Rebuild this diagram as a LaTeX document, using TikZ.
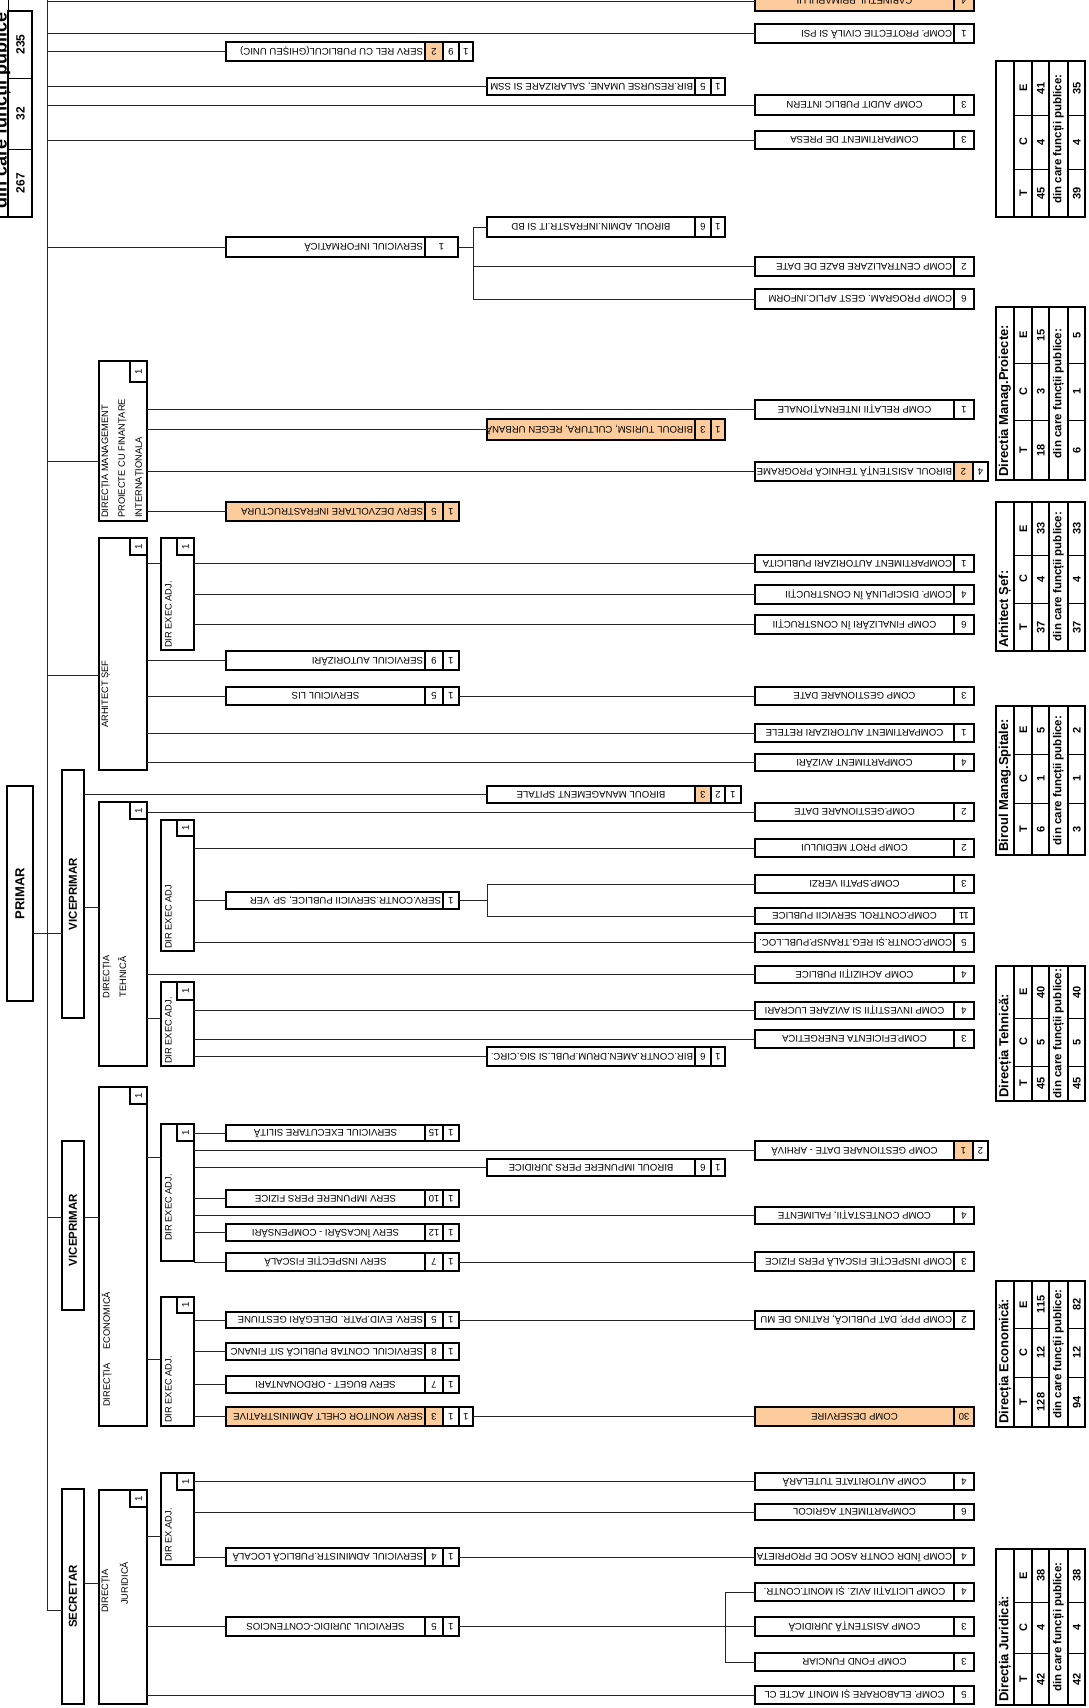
\documentclass[tikz,border=0pt]{standalone}
\usepackage{fontspec}
\setmainfont{Liberation Sans}
\definecolor{orx}{RGB}{252,204,156}
\newcount\nodecnt
\tikzset{
 obx/.style={draw, line width=1.6pt, rectangle, inner sep=0pt, outer sep=0pt, anchor=north west},
 ocl/.style={draw, line width=1.5pt},
 boxtxt/.style={rotate=180, inner sep=0pt, font=\fontsize{9.6}{10}\selectfont, text height=6.9pt, text depth=0pt},
 hbx/.style={draw, line width=2.5pt, rectangle, inner sep=0pt, outer sep=0pt, anchor=north west, fill=white},
 hcl/.style={draw, line width=2.2pt},
 hnum/.style={rotate=90, inner sep=0pt, font=\fontsize{9.6}{10}\selectfont, text height=6.9pt, text depth=0pt},
 htxt/.style={rotate=90, inner sep=0pt, font=\fontsize{9.3}{16.8}\selectfont, anchor=north west, align=left},
 bigt/.style={rotate=90, inner sep=0pt, font=\fontsize{11.5}{12}\selectfont\bfseries},
 conn/.style={line width=0.8pt, draw=black!85},
 tabst/.style={draw, line width=1.8pt, rectangle, inner sep=0pt, outer sep=0pt, anchor=north west},
 tabin/.style={line width=1.4pt},
 tabrow/.style={line width=1pt},
 ttl/.style={rotate=90, inner sep=0pt, font=\fontsize{13}{14}\selectfont\bfseries},
 tval/.style={rotate=90, inner sep=0pt, font=\fontsize{11}{12}\selectfont\bfseries, text height=8pt, text depth=0pt},
 dintxt/.style={rotate=90, inner sep=0pt, font=\fontsize{11.5}{12}\selectfont\bfseries},
}
% box: name, x1, y1, x2, y2, text-right, text, align (c/r), fill
\newcommand{\obox}[9]{%
  \gdef\curya{#3}\gdef\curyb{#5}%
  \node[obx, fill=#9, minimum width={(#4)-(#2)}, minimum height={(#5)-(#3)}] (#1) at (#2,#3) {};
  \if#8c
    \node[boxtxt] (#1t) at ({((#2)+(#6))/2},{((#3)+(#5))/2}) {#7};
  \else
    \node[boxtxt, anchor=west] (#1t) at ({(#6)-1.8},{((#3)+(#5))/2}) {#7};
  \fi
}
\newcommand{\ocell}[4]{%
  \draw[ocl, fill=#4] (#1,\curya) rectangle (#2,\curyb);
  \global\advance\nodecnt by 1
  \node[boxtxt, name=c\the\nodecnt] at ({((#1)+(#2))/2},{(\curya+\curyb)/2}) {#3};
}
\newcommand{\headbox}[5]{%
  \node[hbx, minimum width={(#4)-(#2)}, minimum height={(#5)-(#3)}] (#1) at (#2,#3) {};
}
\newcommand{\onecell}[4]{%
  \draw[hcl, fill=white] (#1,#2) rectangle (#3,#4);
  \global\advance\nodecnt by 1
  \node[hnum, name=h\the\nodecnt] at ({((#1)+(#3))/2},{((#2)+(#4))/2}) {1};
}
% table: name, y1, r1, r2, y2, title
\newcommand{\stattab}[6]{%
  \node[tabst, minimum width=89, minimum height={(#5)-(#2)}] (#1) at (996,#2) {};
  \draw[tabin] (1014,#2) -- (1014,#5) (1032,#2) -- (1032,#5) (1049,#2) -- (1049,#5) (1068,#2) -- (1068,#5);
  \draw[tabrow] (1014,#3) -- (1049,#3) (1014,#4) -- (1049,#4) (1068,#3) -- (1085,#3) (1068,#4) -- (1085,#4);
  \node[ttl, anchor=north west] (#1ttl) at (998.5,{(#5)-3}) {#6};
  \node[dintxt] (#1din) at (1058.5,{((#2)+(#5))/2}) {din care funcții publice:};
  \node[tval] (#1T) at (1023,{((#4)+(#5))/2}) {T};
  \node[tval] (#1C) at (1023,{((#3)+(#4))/2}) {C};
  \node[tval] (#1E) at (1023,{((#2)+(#3))/2}) {E};
  \gdef\tya{#2}\gdef\tra{#3}\gdef\trb{#4}\gdef\tyb{#5}%
}
\newcommand{\statvals}[7]{%
  \node[tval] (#1vt) at (1040.5,{(\trb+\tyb)/2}) {#2};
  \node[tval] (#1vc) at (1040.5,{(\tra+\trb)/2}) {#3};
  \node[tval] (#1ve) at (1040.5,{(\tya+\tra)/2}) {#4};
  \node[tval] (#1dt) at (1076.5,{(\trb+\tyb)/2}) {#5};
  \node[tval] (#1dc) at (1076.5,{(\tra+\trb)/2}) {#6};
  \node[tval] (#1de) at (1076.5,{(\tya+\tra)/2}) {#7};
}
\begin{document}
\begin{tikzpicture}[x=1pt,y=-1pt]
\useasboundingbox (0,0) rectangle (1089,1708);
\clip (0,0) rectangle (1089,1708);
\fill[white] (0,0) rectangle (1089,1708);

% ---------- top-left summary table (cropped) ----------
\node[tabst, minimum width=24, minimum height=206] (t0) at (8,11) {};
\draw[tabrow] (t0.north west) -- (8,0);
\draw[tabin] (t0.south west) -- (0,217);
\draw[tabrow] (8,78) -- (32,78) (8,149) -- (32,149);
\node[tval, font=\fontsize{12}{13}\selectfont\bfseries] (t0a) at (20.5,44.5) {235};
\node[tval, font=\fontsize{12}{13}\selectfont\bfseries] (t0b) at (20.5,113.5) {32};
\node[tval, font=\fontsize{12}{13}\selectfont\bfseries] (t0c) at (20.5,183) {267};
\node[rotate=90, inner sep=0pt, anchor=base west, font=\fontsize{18}{19}\selectfont\bfseries] (t0din) at (6.5,209) {din care funcții publice};

% ---------- header boxes ----------
\headbox{primar}{7}{786}{33}{1001}
\headbox{vp1}{62}{770}{84}{1018}
\headbox{vp2}{62}{1141}{84}{1310}
\headbox{secr}{62}{1489}{84}{1704}
\node[bigt, font=\fontsize{13}{14}\selectfont\bfseries] (primart) at (primar.center) {PRIMAR};
\node[bigt] (vp1t) at (vp1.center) {VICEPRIMAR};
\node[bigt] (vp2t) at (73,1230) {VICEPRIMAR};
\node[bigt] (secrt) at (secr.center) {SECRETAR};

\headbox{dmp}{99}{361}{147}{521}\onecell{130}{361}{147}{382}
\node[htxt] (dmpt) at (101.5,518) {DIRECȚIA MANAGEMENT\\PROIECTE CU FINANȚARE\\INTERNAȚIONALA};
\headbox{arhs}{99}{538}{147}{770}\onecell{130}{538}{147}{555}
\node[htxt] (arhst) at (101.5,728) {ARHITECT ȘEF};
\headbox{dea}{161}{538}{194}{650}\onecell{177}{538}{194}{555}
\node[htxt] (deat) at (165,648) {DIR EXEC ADJ.};
\headbox{dth}{99}{802}{147}{1066}\onecell{130}{802}{147}{819}
\node[htxt, align=center, anchor=center] (dtht) at (114.5,977) {DIRECȚIA\\TEHNICĂ};
\headbox{det1}{161}{820}{194}{951}\onecell{177}{820}{194}{836}
\node[htxt] (det1t) at (165,949) {DIR EXEC ADJ};
\headbox{det2}{161}{982}{194}{1066}\onecell{177}{982}{194}{1000}
\node[htxt] (det2t) at (165,1064) {DIR EXEC ADJ.};
\headbox{dec}{99}{1087}{147}{1426}\onecell{130}{1087}{147}{1104}
\node[htxt] (dect) at (101.5,1407) {DIRECȚIA\hspace{14pt}ECONOMICĂ};
\headbox{dee1}{161}{1124}{194}{1261}\onecell{177}{1124}{194}{1141}
\node[htxt] (dee1t) at (165,1241) {DIR EXEC ADJ.};
\headbox{dee2}{161}{1297}{194}{1426}\onecell{177}{1297}{194}{1313}
\node[htxt] (dee2t) at (165,1423) {DIR EXEC ADJ.};
\headbox{djr}{99}{1490}{147}{1704}\onecell{130}{1490}{147}{1507}
\node[htxt] (djrt1) at (101.5,1613) {DIRECȚIA};
\node[htxt] (djrt2) at (119.5,1605) {JURIDICĂ};
\headbox{dej}{161}{1473}{194}{1565}\onecell{177}{1473}{194}{1490}
\node[htxt] (dejt) at (165,1562) {DIR EX.ADJ.};

% ---------- right column ----------
\obox{cab}{755}{-9}{974}{11}{954}{CABINETUL PRIMARULUI}{c}{orx}\ocell{954}{974}{4}{orx}
\obox{pci}{755}{24}{974}{43}{954}{COMP. PROTECTIE CIVILĂ SI PSI}{r}{white}\ocell{954}{974}{1}{white}
\obox{aud}{755}{95}{974}{115}{954}{COMP AUDIT PUBLIC INTERN}{c}{white}\ocell{954}{974}{3}{white}
\obox{pre}{755}{131}{974}{149}{954}{COMPARTIMENT DE PRESA}{c}{white}\ocell{954}{974}{3}{white}
\obox{cbd}{755}{257}{974}{276}{954}{COMP CENTRALIZARE BAZE DE DATE}{r}{white}\ocell{954}{974}{2}{white}
\obox{cpg}{755}{289}{974}{309}{954}{COMP PROGRAM. GEST APLIC.INFORM}{r}{white}\ocell{954}{974}{6}{white}
\obox{rel}{755}{400}{974}{419}{954}{COMP RELAȚII INTERNAȚIONALE}{c}{white}\ocell{954}{974}{1}{white}
\obox{atp}{755}{462}{988}{481}{954}{BIROUL ASISTENȚĂ TEHNICĂ PROGRAME}{r}{white}\ocell{954}{973}{2}{orx}\ocell{973}{988}{4}{white}
\obox{apu}{755}{555}{974}{572}{954}{COMPARTIMENT AUTORIZARI PUBLICITA}{r}{white}\ocell{954}{974}{1}{white}
\obox{dis}{755}{585}{974}{604}{954}{COMP. DISCIPLINĂ ÎN CONSTRUCȚII}{r}{white}\ocell{954}{974}{4}{white}
\obox{fin}{755}{615}{974}{634}{954}{COMP FINALIZĂRI ÎN CONSTRUCȚII}{c}{white}\ocell{954}{974}{6}{white}
\obox{gda}{755}{687}{974}{705}{954}{COMP GESTIONARE DATE}{c}{white}\ocell{954}{974}{3}{white}
\obox{are}{755}{724}{974}{742}{954}{COMPARTIMENT AUTORIZARI RETELE}{c}{white}\ocell{954}{974}{1}{white}
\obox{avi}{755}{754}{974}{771}{954}{COMPARTIMENT AVIZĂRI}{c}{white}\ocell{954}{974}{4}{white}
\obox{gdt}{755}{803}{974}{821}{954}{COMP.GESTIONARE DATE}{c}{white}\ocell{954}{974}{2}{white}
\obox{pmd}{755}{839}{974}{857}{954}{COMP PROT MEDIULUI}{c}{white}\ocell{954}{974}{2}{white}
\obox{spv}{755}{875}{974}{893}{954}{COMP.SPATII VERZI}{c}{white}\ocell{954}{974}{3}{white}
\obox{csp}{755}{908}{974}{924}{954}{COMP.CONTROL SERVICII PUBLICE}{c}{white}\ocell{954}{974}{11}{white}
\obox{trp}{755}{933}{974}{952}{954}{COMP.CONTR.ȘI REG.TRANSP.PUBL.LOC.}{r}{white}\ocell{954}{974}{5}{white}
\obox{ach}{755}{966}{974}{983}{954}{COMP ACHIZIȚII PUBLICE}{c}{white}\ocell{954}{974}{4}{white}
\obox{inv}{755}{1002}{974}{1019}{954}{COMP INVESTIȚII SI AVIZARE LUCRARI}{c}{white}\ocell{954}{974}{4}{white}
\obox{efi}{755}{1030}{974}{1048}{954}{COMP.EFICIENTA ENERGETICA}{c}{white}\ocell{954}{974}{3}{white}
\obox{arv}{755}{1141}{988}{1160}{954}{COMP GESTIONARE DATE - ARHIVĂ}{c}{white}\ocell{954}{973}{1}{orx}\ocell{973}{988}{2}{white}
\obox{fal}{755}{1207}{974}{1224}{954}{COMP CONTESTAȚII, FALIMENTE}{c}{white}\ocell{954}{974}{4}{white}
\obox{ifp}{755}{1252}{974}{1271}{954}{COMP INSPECȚIE FISCALĂ PERS FIZICE}{r}{white}\ocell{954}{974}{3}{white}
\obox{ppp}{755}{1311}{974}{1329}{954}{COMP PPP, DAT PUBLICĂ, RATING DE MU}{r}{white}\ocell{954}{974}{2}{white}
\obox{des}{755}{1407}{974}{1426}{954}{COMP DESERVIRE}{c}{orx}\ocell{954}{974}{30}{orx}
\obox{tut}{755}{1473}{974}{1490}{954}{COMP AUTORITATE TUTELARĂ}{c}{white}\ocell{954}{974}{4}{white}
\obox{agr}{755}{1504}{974}{1520}{954}{COMPARTIMENT AGRICOL}{c}{white}\ocell{954}{974}{6}{white}
\obox{asp}{755}{1548}{974}{1565}{954}{COMP ÎNDR CONTR ASOC DE PROPRIETA}{r}{white}\ocell{954}{974}{4}{white}
\obox{lic}{755}{1583}{974}{1601}{954}{COMP LICITAȚII AVIZ. ȘI MONIT.CONTR.}{c}{white}\ocell{954}{974}{4}{white}
\obox{asj}{755}{1617}{974}{1636}{954}{COMP ASISTENȚĂ JURIDICĂ}{c}{white}\ocell{954}{974}{3}{white}
\obox{ffu}{755}{1653}{974}{1671}{954}{COMP FOND FUNCIAR}{c}{white}\ocell{954}{974}{3}{white}
\obox{ela}{755}{1686}{974}{1704}{954}{COMP. ELABORARE ȘI MONIT ACTE CL}{c}{white}\ocell{954}{974}{5}{white}

% ---------- middle column ----------
\obox{rum}{487}{78}{725}{95}{695}{BIR.RESURSE UMANE, SALARIZARE SI SSM}{r}{white}\ocell{695}{711}{5}{white}\ocell{711}{725}{1}{white}
\obox{bai}{487}{217}{725}{237}{695}{BIROUL ADMIN.INFRASTR.IT SI BD}{c}{white}\ocell{695}{711}{6}{white}\ocell{711}{725}{1}{white}
\obox{tur}{487}{419}{725}{440}{695}{BIROUL TURISM, CULTURA, REGEN URBANĂ}{r}{orx}\ocell{695}{711}{3}{orx}\ocell{711}{725}{1}{orx}
\obox{bms}{487}{786}{741}{803}{695}{BIROUL MANAGEMENT SPITALE}{c}{white}\ocell{695}{711}{3}{orx}\ocell{711}{725}{2}{white}\ocell{725}{741}{1}{white}
\obox{bca}{487}{1047}{725}{1066}{695}{BIR.CONTR.AMEN.DRUM.PUBL.SI SIG.CIRC.}{r}{white}\ocell{695}{711}{6}{white}\ocell{711}{725}{1}{white}
\obox{bip}{487}{1159}{725}{1176}{695}{BIROUL IMPUNERE PERS JURIDICE}{c}{white}\ocell{695}{711}{6}{white}\ocell{711}{725}{1}{white}

% ---------- services column ----------
\obox{srp}{226}{42}{473}{61}{425}{SERV REL CU PUBLICUL(GHIȘEU UNIC)}{r}{white}\ocell{425}{443}{2}{orx}\ocell{443}{459}{9}{white}\ocell{459}{473}{1}{white}
\obox{sinf}{226}{237}{458}{257}{425}{SERVICIUL INFORMATICĂ}{r}{white}\ocell{425}{458}{1}{white}
\obox{sdi}{226}{502}{459}{521}{425}{SERV DEZVOLTARE INFRASTRUCTURA}{r}{orx}\ocell{425}{443}{5}{orx}\ocell{443}{459}{1}{orx}
\obox{sau}{226}{651}{459}{670}{425}{SERVICIUL AUTORIZĂRI}{r}{white}\ocell{425}{443}{9}{white}\ocell{443}{459}{1}{white}
\obox{lis}{226}{687}{459}{705}{425}{SERVICIUL LIS}{c}{white}\ocell{425}{443}{5}{white}\ocell{443}{459}{1}{white}
\obox{scs}{226}{892}{459}{909}{443}{SERV.CONTR.SERVICII PUBLICE, SP. VER}{r}{white}\ocell{443}{459}{1}{white}
\obox{ses}{226}{1125}{459}{1141}{425}{SERVICIUL EXECUTARE SILITĂ}{c}{white}\ocell{425}{443}{15}{white}\ocell{443}{459}{1}{white}
\obox{spf}{226}{1190}{459}{1207}{425}{SERV IMPUNERE PERS FIZICE}{c}{white}\ocell{425}{443}{10}{white}\ocell{443}{459}{1}{white}
\obox{sic}{226}{1224}{459}{1241}{425}{SERV ÎNCASĂRI - COMPENSĂRI}{c}{white}\ocell{425}{443}{12}{white}\ocell{443}{459}{1}{white}
\obox{sif}{226}{1253}{459}{1271}{425}{SERV INSPECȚIE FISCALĂ}{c}{white}\ocell{425}{443}{7}{white}\ocell{443}{459}{1}{white}
\obox{sep}{226}{1312}{459}{1328}{425}{SERV. EVID.PATR. DELEGĂRI GESTIUNE}{r}{white}\ocell{425}{443}{5}{white}\ocell{443}{459}{1}{white}
\obox{scp}{226}{1343}{459}{1360}{425}{SERVICIUL CONTAB PUBLICĂ SIT FINANC}{r}{white}\ocell{425}{443}{8}{white}\ocell{443}{459}{1}{white}
\obox{sbo}{226}{1376}{459}{1393}{425}{SERV BUGET - ORDONANTARI}{c}{white}\ocell{425}{443}{7}{white}\ocell{443}{459}{1}{white}
\obox{smc}{226}{1407}{473}{1426}{425}{SERV MONITOR CHELT ADMINISTRATIVE}{r}{orx}\ocell{425}{443}{3}{orx}\ocell{443}{459}{1}{white}\ocell{459}{473}{1}{white}
\obox{sap}{226}{1548}{459}{1566}{425}{SERVICIUL ADMINISTR.PUBLICĂ LOCALĂ}{r}{white}\ocell{425}{443}{4}{white}\ocell{443}{459}{1}{white}
\obox{sjc}{226}{1617}{459}{1636}{425}{SERVICIUL JURIDIC-CONTENCIOS}{c}{white}\ocell{425}{443}{5}{white}\ocell{443}{459}{1}{white}

% ---------- statistics tables ----------
\stattab{ta}{61}{115}{169}{217}{}\statvals{ta}{45}{4}{41}{39}{4}{35}
\stattab{tb}{307}{363}{420}{480}{Directia Manag.Proiecte:}\statvals{tb}{18}{3}{15}{6}{1}{5}
\stattab{tc}{502}{555}{603}{651}{Arhitect Șef:}\statvals{tc}{37}{4}{33}{37}{4}{33}
\stattab{td}{706}{754}{803}{855}{Biroul Manag.Spitale:}\statvals{td}{6}{1}{5}{3}{1}{2}
\stattab{te}{966}{1018}{1066}{1101}{Direcția Tehnică:}\statvals{te}{45}{5}{40}{45}{5}{40}
\stattab{tf}{1281}{1328}{1377}{1427}{Direcția Economică:}\statvals{tf}{128}{12}{115}{94}{12}{82}
\stattab{tg}{1549}{1602}{1653}{1705}{Direcția Juridică:}\statvals{tg}{42}{4}{38}{42}{4}{38}

% ---------- connectors ----------
\coordinate (bt) at (47,0);
\coordinate (bb) at (47,1610);
\draw[conn] (bt) -- (bb) -- (bb -| secr.west);
\draw[conn] (bt |- cab.west) -- (cab.west);
\draw[conn] (bt |- pci.west) -- (pci.west);
\draw[conn] (bt |- srp.west) -- (srp.west);
\draw[conn] (bt |- rum.west) -- (rum.west);
\draw[conn] (bt |- aud.west) -- (aud.west);
\draw[conn] (bt |- pre.west) -- (pre.west);
\draw[conn] (bt |- sinf.west) -- (sinf.west);
\draw[conn] (bt |- 0,461) -- (dmp.west |- 0,461);
\draw[conn] (bt |- 0,675) -- (arhs.west |- 0,675);
\draw[conn] (bt |- 0,1217) -- (vp2.west |- 0,1217);
\draw[conn] (primar.east |- 0,933) -- (vp1.west |- 0,933);
\draw[conn] (vp1.east |- bms.west) -- (bms.west);
\draw[conn] (vp1.east |- 0,907) -- (dth.west |- 0,907);
\draw[conn] (vp2.east |- 0,1217) -- (dec.west |- 0,1217);
\draw[conn] (secr.east |- 0,1583) -- (djr.west |- 0,1583);
% informatica group
\draw[conn] (sinf.east) -- (sinf.east -| 473,0);
\draw[conn] (bai.west) -| (473,0 |- cpg.west) -- (cpg.west);
\draw[conn] (473,0 |- cbd.west) -- (cbd.west);
% directia management proiecte
\draw[conn] (dmp.east |- rel.west) -- (rel.west);
\draw[conn] (dmp.east |- tur.west) -- (tur.west);
\draw[conn] (dmp.east |- atp.west) -- (atp.west);
\draw[conn] (dmp.east |- sdi.west) -- (sdi.west);
% arhitect sef
\draw[conn] (arhs.east |- 0,563) -- (dea.west |- 0,563);
\draw[conn] (arhs.east |- sau.west) -- (sau.west);
\draw[conn] (arhs.east |- lis.west) -- (lis.west);
\draw[conn] (lis.east) -- (lis.east -| gda.west);
\draw[conn] (arhs.east |- are.west) -- (are.west);
\draw[conn] (arhs.east |- avi.west) -- (avi.west);
\draw[conn] (dea.east |- apu.west) -- (apu.west);
\draw[conn] (dea.east |- dis.west) -- (dis.west);
\draw[conn] (dea.east |- fin.west) -- (fin.west);
% directia tehnica
\draw[conn] (dth.east |- gdt.west) -- (gdt.west);
\draw[conn] (dth.east |- ach.west) -- (ach.west);
\draw[conn] (dth.east |- 0,1018) -- (det2.west |- 0,1018);
\draw[conn] (det1.east |- pmd.west) -- (pmd.west);
\draw[conn] (det1.east |- scs.west) -- (scs.west);
\draw[conn] (det1.east |- trp.west) -- (trp.west);
\draw[conn] (scs.east) -- (scs.east -| 487,0);
\draw[conn] (spv.west) -| (487,0 |- csp.west) -- (csp.west);
\draw[conn] (det2.east |- inv.west) -- (inv.west);
\draw[conn] (det2.east |- efi.west) -- (efi.west);
\draw[conn] (det2.east |- bca.west) -- (bca.west);
% directia economica
\draw[conn] (dec.east |- 0,1157) -- (dee1.west |- 0,1157);
\draw[conn] (dec.east |- 0,1359) -- (dee2.west |- 0,1359);
\draw[conn] (dee1.east |- ses.west) -- (ses.west);
\draw[conn] (dee1.east |- arv.west) -- (arv.west);
\draw[conn] (dee1.east |- bip.west) -- (bip.west);
\draw[conn] (dee1.east |- spf.west) -- (spf.west);
\draw[conn] (dee1.east |- fal.west) -- (fal.west);
\draw[conn] (dee1.east |- sic.west) -- (sic.west);
\draw[conn] (dee1.east |- sif.west) -- (sif.west);
\draw[conn] (sif.east) -- (sif.east -| ifp.west);
\draw[conn] (dee2.east |- sep.west) -- (sep.west);
\draw[conn] (sep.east) -- (sep.east -| ppp.west);
\draw[conn] (dee2.east |- scp.west) -- (scp.west);
\draw[conn] (dee2.east |- sbo.west) -- (sbo.west);
\draw[conn] (dee2.east |- smc.west) -- (smc.west);
\draw[conn] (smc.east) -- (smc.east -| des.west);
% directia juridica
\draw[conn] (djr.east |- 0,1536) -- (dej.west |- 0,1536);
\draw[conn] (dej.east |- tut.west) -- (tut.west);
\draw[conn] (dej.east |- agr.west) -- (agr.west);
\draw[conn] (dej.east |- sap.west) -- (sap.west);
\draw[conn] (sap.east) -- (sap.east -| asp.west);
\draw[conn] (djr.east |- sjc.west) -- (sjc.west);
\draw[conn] (djr.east |- ela.west) -- (ela.west);
\draw[conn] (sjc.east) -- (sjc.east -| asj.west);
\draw[conn] (lic.west) -| (725,0 |- ffu.west) -- (ffu.west);
\end{tikzpicture}
\end{document}
